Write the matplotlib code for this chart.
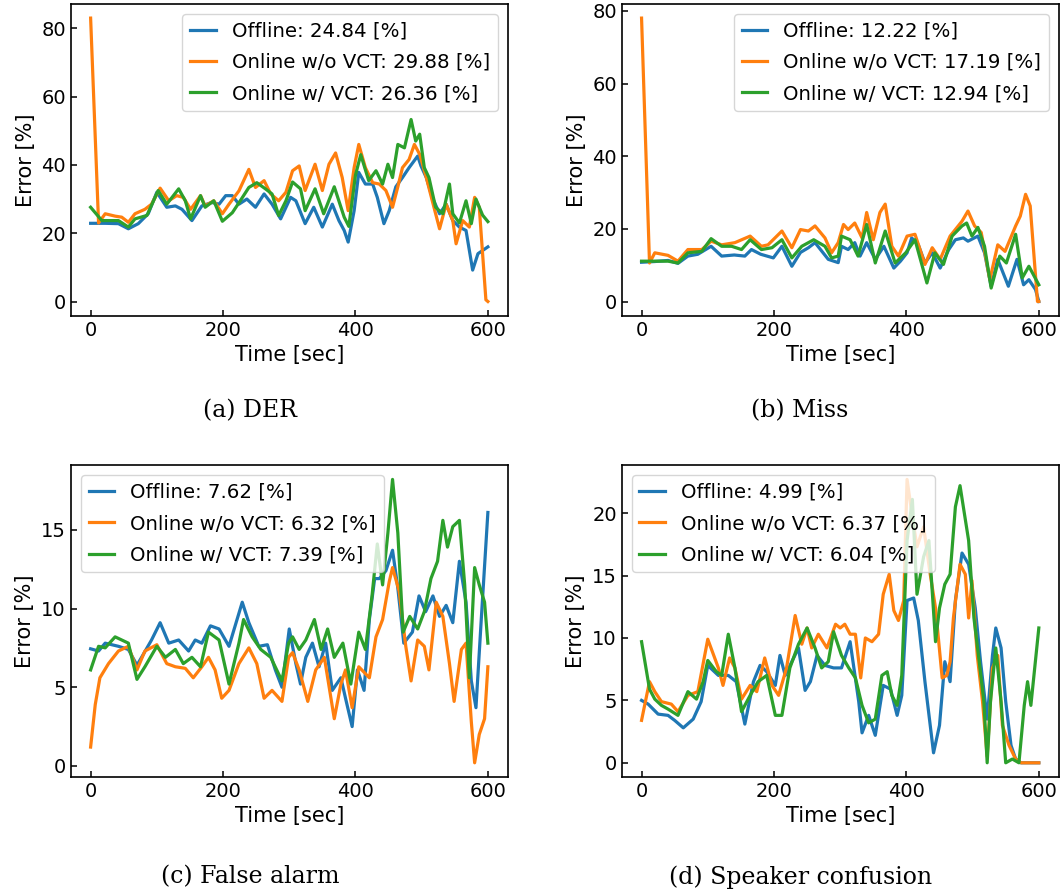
import matplotlib
matplotlib.use("Agg")
import matplotlib.pyplot as plt

labels = ["Offline", "Online w/o VCT", "Online w/ VCT"]
colors = ["tab:blue", "tab:orange", "tab:green"]

# (a) DER
der_means = [24.84, 29.88, 26.36]
der_t_off = [0, 22, 42, 57, 72, 87, 100, 115, 128, 138, 153, 168, 183, 194, 204, 214, 224, 236, 249, 262,
             274, 287, 302, 310, 324, 337, 350, 365, 375, 383, 389, 398, 405, 415, 426, 433, 443, 451, 461, 471,
             481, 494, 499, 507, 516, 527, 537, 547, 557, 567, 577, 585, 600]
der_off = [22.9, 22.9, 22.8, 21.3, 22.8, 25.7, 32, 27.6, 28, 27, 23.7, 28, 29, 28.5, 31, 31, 28.5, 30, 27.6, 31.5,
           28.5, 24.2, 30.5, 29.5, 22.8, 27.6, 21.8, 28.5, 23.7, 20.8, 17.4, 26.6, 37.8, 34.4, 34.4, 30.5, 22.8, 26.6, 33.6, 36.3,
           39.2, 42.6, 39.7, 36.3, 30.5, 25.7, 28.5, 23.7, 21.8, 20.8, 9.2, 14, 16]
der_t_wo = [0, 12, 22, 37, 47, 57, 67, 82, 92, 105, 118, 130, 140, 151, 166, 173, 186, 199, 209, 224,
            239, 249, 262, 272, 284, 295, 305, 315, 324, 339, 350, 360, 370, 380, 389, 398, 405, 415, 426, 436,
            446, 456, 464, 471, 481, 489, 497, 507, 516, 527, 537, 547, 552, 562, 572, 580, 587, 597, 600]
der_wo = [83, 23, 25.7, 25, 24.7, 23.2, 25.7, 27, 28.5, 33.2, 29.5, 31, 30.5, 27, 31, 28, 29.5, 25.7, 28.5, 32.4,
          38.7, 33.4, 35.4, 31.5, 29.5, 32, 38.3, 39.7, 32.5, 40.2, 32.5, 40.2, 43.5, 36.3, 26.6, 39.2, 46, 39.2, 34.8, 34.4,
          32.5, 27.6, 33.6, 39.2, 41.6, 46, 43.1, 36.3, 29.5, 21.3, 28.5, 23.7, 16.9, 23.7, 21.8, 30.5, 27.6, 0.5, 0]
der_t_w = [0, 17, 42, 57, 67, 85, 102, 115, 123, 133, 143, 151, 166, 173, 186, 199, 214, 226, 239, 251,
           264, 274, 284, 295, 305, 317, 324, 339, 352, 368, 383, 390, 400, 408, 420, 431, 441, 449, 456, 464,
           474, 484, 491, 497, 504, 511, 521, 532, 542, 547, 557, 567, 575, 582, 592, 600]
der_w = [27.6, 23.7, 23.7, 21.8, 24.2, 25.2, 32.5, 28.5, 30.5, 33, 29.5, 24.2, 31, 27.6, 29.5, 23.5, 26, 29.5, 33.4, 34.8,
         33, 31.5, 25.2, 29.5, 35, 33, 26.6, 33, 25.7, 33.6, 24.7, 22, 37, 43, 35.4, 38.3, 34.4, 40.2, 36.3, 46,
         45, 53.3, 47, 49, 39.2, 36.3, 27.6, 25.7, 34.4, 25.7, 23, 29.5, 22.8, 30, 25.3, 23.4]

# (b) Miss
miss_means = [12.22, 17.19, 12.94]
miss_t_off = [0, 20, 40, 55, 70, 85, 105, 121, 140, 156, 166, 180, 199, 212, 227, 240, 252, 262, 282, 297,
              302, 312, 322, 330, 340, 353, 366, 381, 391, 401, 408, 418, 428, 439, 451, 464, 474, 486, 493, 508,
              518, 528, 538, 554, 567, 577, 585, 595, 600]
miss_off = [10.8, 11, 11.3, 10.5, 12.5, 13, 15.2, 12.5, 12.8, 12.5, 14.3, 13, 12, 15.2, 9.7, 13.5, 14.8, 16.2, 11.6, 10.7,
            15.2, 14.3, 16.2, 12.5, 16.2, 11.6, 15.2, 9.2, 11.1, 13.4, 17.5, 15.6, 10.6, 13.4, 9.2, 14.3, 17, 17.5, 16.6, 18,
            13.4, 4.2, 11.6, 4.2, 11.6, 4.6, 6, 3.3, 0]
miss_t_wo = [0, 12, 20, 40, 55, 70, 91, 105, 121, 141, 164, 181, 191, 212, 227, 240, 252, 262, 277, 287,
             297, 305, 312, 322, 333, 340, 350, 360, 368, 378, 388, 401, 413, 428, 439, 451, 466, 484, 493, 503,
             513, 526, 538, 549, 565, 572, 580, 587, 592, 598, 600]
miss_wo = [78, 10.6, 13.4, 12.7, 11.1, 14.3, 14.3, 16.6, 15.6, 16.2, 18, 15.2, 15.6, 19.4, 14.8, 19.8, 19.4, 20.8, 17.5, 13.4,
           16.2, 21.2, 19.8, 21.6, 17.5, 24.5, 17, 24.5, 26.8, 15.2, 12.5, 18, 18.5, 10.2, 14.8, 11.6, 18, 22.1, 24.9, 20.8,
           19, 6, 15.6, 13.8, 20.8, 23.5, 29.5, 26.3, 14.3, 0, 0]
miss_t_w = [0, 20, 40, 55, 70, 91, 105, 121, 136, 151, 164, 181, 197, 212, 227, 242, 260, 277, 287, 297,
            302, 315, 327, 340, 353, 368, 383, 399, 413, 431, 443, 456, 469, 484, 491, 499, 508, 518, 528, 541,
            551, 565, 575, 585, 600]
miss_w = [11.1, 11.1, 11.1, 10.6, 13.4, 13.8, 17.3, 15.2, 15.2, 14.3, 17, 14.3, 14.8, 17, 12, 15.2, 17, 15.2, 12, 12.5,
          18, 17, 12.5, 21.2, 10.6, 19.4, 10.6, 13.4, 17, 5.1, 13.4, 10.2, 18, 20.8, 21.6, 18, 20.4, 15.2, 3.7, 12.5,
          10.6, 18.5, 6.5, 9.7, 4.6]

# (c) False alarm
fa_means = [7.62, 6.32, 7.39]
fa_t_off = [0, 12, 22, 42, 57, 70, 77, 92, 105, 118, 133, 148, 158, 168, 181, 194, 209, 229, 239, 254,
            267, 279, 289, 300, 310, 317, 325, 335, 345, 355, 365, 378, 385, 395, 403, 413, 421, 429, 436, 446,
            456, 464, 473, 486, 496, 506, 517, 527, 537, 547, 557, 567, 575, 582, 590, 600]
fa_off = [7.44, 7.3, 7.8, 7.6, 7.4, 6.4, 6.9, 8.0, 9.1, 7.8, 8.0, 7.3, 8.0, 7.8, 8.9, 8.7, 7.6, 10.4, 9.1, 7.6,
          7.7, 6.1, 5.0, 8.7, 6.5, 5.2, 6.9, 7.8, 6.3, 7.8, 4.8, 5.6, 4.3, 2.5, 6.1, 4.8, 9.3, 11.9, 11.9, 12.4,
          13.7, 11.3, 7.8, 8.5, 10.8, 9.8, 10.8, 9.5, 10.2, 9.1, 13.0, 10.4, 5.4, 3.7, 9.3, 16.1]
fa_t_wo = [0, 7, 14, 27, 42, 57, 70, 82, 100, 115, 128, 143, 155, 168, 178, 188, 198, 209, 224, 239,
           251, 262, 274, 289, 299, 305, 315, 328, 340, 353, 368, 378, 385, 395, 405, 421, 431, 441, 451, 456,
           466, 476, 484, 494, 504, 511, 522, 532, 542, 549, 560, 567, 575, 580, 587, 595, 600]
fa_wo = [1.2, 3.9, 5.6, 6.5, 7.3, 7.6, 6.1, 7.3, 7.7, 6.5, 6.3, 6.2, 5.6, 6.3, 6.9, 6.1, 4.3, 4.8, 6.5, 7.5,
         6.5, 4.3, 4.8, 4.1, 6.9, 7.2, 6.1, 4.1, 6.1, 6.9, 3.0, 5.2, 6.1, 3.7, 6.3, 5.6, 8.2, 9.3, 11.7, 12.6,
         11.1, 7.6, 5.4, 8.0, 7.6, 6.1, 10.4, 9.5, 6.5, 4.1, 7.4, 7.8, 2.8, 0.2, 2.0, 3.0, 6.3]
fa_t_w = [0, 12, 22, 37, 57, 70, 82, 100, 113, 128, 140, 153, 166, 178, 194, 209, 224, 231, 244, 257,
          272, 289, 299, 305, 315, 325, 338, 348, 358, 368, 381, 393, 405, 415, 425, 433, 441, 449, 456, 464,
          472, 482, 494, 504, 514, 524, 532, 539, 547, 557, 565, 572, 580, 587, 595, 600]
fa_w = [6.1, 7.6, 7.5, 8.2, 7.8, 5.5, 6.3, 7.6, 6.9, 7.4, 6.5, 6.9, 6.3, 8.5, 8.0, 5.2, 7.8, 9.3, 8.2, 7.4,
        6.9, 5.4, 7.8, 8.2, 7.4, 8.0, 9.3, 7.4, 8.7, 6.9, 7.8, 5.2, 8.5, 7.4, 10.8, 14.1, 11.5, 14.8, 18.2, 14.8,
        8.5, 9.5, 8.7, 9.8, 11.9, 13.0, 15.6, 13.9, 15.2, 15.6, 11.5, 5.6, 12.6, 11.5, 10.4, 7.8]

# (d) Speaker confusion
sc_means = [4.99, 6.37, 6.04]
sc_t_off = [0, 10, 25, 40, 50, 63, 78, 90, 100, 116, 131, 143, 156, 169, 179, 189, 202, 209, 217, 227,
            237, 247, 255, 265, 277, 290, 302, 315, 328, 333, 343, 353, 365, 376, 386, 393, 401, 411, 418, 428,
            441, 450, 458, 466, 474, 484, 494, 504, 512, 522, 530, 535, 543, 550, 558, 565, 573, 600]
sc_off = [5.0, 4.7, 3.9, 3.8, 3.4, 2.8, 3.5, 4.9, 7.8, 7.0, 7.0, 6.5, 3.1, 6.5, 7.8, 7.3, 6.2, 8.6, 7.0, 8.1,
          9.2, 5.8, 6.5, 8.6, 7.8, 7.6, 7.6, 9.7, 4.9, 2.4, 3.8, 2.2, 6.2, 5.9, 3.8, 5.4, 13.0, 13.2, 11.4, 6.5,
          0.8, 3.0, 8.1, 6.5, 13.0, 16.8, 15.9, 12.4, 8.1, 3.5, 8.6, 10.8, 9.2, 4.9, 1.4, 0.3, 0, 0]
sc_t_wo = [0, 12, 20, 30, 45, 55, 70, 85, 100, 116, 123, 133, 141, 151, 164, 174, 186, 197, 207, 219,
           232, 242, 250, 257, 267, 280, 293, 300, 307, 315, 323, 331, 338, 348, 358, 365, 374, 381, 388, 396,
           401, 409, 416, 426, 436, 444, 454, 461, 466, 471, 481, 489, 494, 499, 507, 515, 522, 530, 538, 545,
           555, 565, 573, 600]
sc_wo = [3.4, 6.5, 5.7, 4.9, 4.7, 4.1, 5.4, 5.7, 9.9, 7.6, 6.2, 8.4, 7.6, 5.1, 6.2, 5.7, 8.4, 6.2, 5.4, 7.6,
         11.8, 9.5, 10.8, 9.2, 10.3, 9.2, 11.1, 10.8, 11.1, 10.3, 10.3, 6.8, 10.0, 9.7, 10.3, 13.5, 15.1, 12.2, 11.4, 13.0,
         22.7, 19.7, 17.3, 18.9, 15.1, 12.4, 6.8, 7.0, 8.1, 11.6, 15.9, 15.1, 11.6, 14.6, 8.6, 4.9, 0.5, 7.6, 8.6, 3.0,
         1.4, 0.3, 0, 0]
sc_t_w = [0, 12, 20, 30, 40, 55, 70, 83, 93, 100, 113, 121, 131, 141, 151, 164, 176, 189, 202, 212,
          224, 237, 250, 262, 272, 282, 290, 302, 313, 323, 333, 343, 353, 363, 371, 378, 386, 393, 401, 409,
          416, 426, 434, 444, 450, 458, 466, 474, 481, 486, 494, 502, 510, 517, 522, 527, 535, 543, 550, 560,
          570, 578, 583, 588, 600]
sc_w = [9.7, 5.9, 5.1, 4.6, 4.3, 3.8, 5.7, 5.1, 6.5, 8.2, 7.3, 7.0, 10.3, 7.6, 4.1, 5.4, 6.5, 7.0, 3.8, 3.8,
        7.6, 9.5, 10.8, 9.2, 7.6, 8.1, 10.5, 8.6, 7.6, 6.8, 4.6, 3.2, 3.5, 7.0, 7.3, 5.4, 4.6, 7.0, 17.8, 21.1,
        13.5, 16.5, 17.8, 9.7, 12.4, 14.3, 15.1, 20.5, 22.2, 20.5, 17.8, 11.6, 8.1, 4.9, 0, 4.9, 9.2, 4.9, 0, 0.3,
        0, 4.6, 6.5, 4.6, 10.8]

panels = [
    ("(a) DER", der_means, [(der_t_off, der_off), (der_t_wo, der_wo), (der_t_w, der_w)], "upper right", [0, 20, 40, 60, 80]),
    ("(b) Miss", miss_means, [(miss_t_off, miss_off), (miss_t_wo, miss_wo), (miss_t_w, miss_w)], "upper right", [0, 20, 40, 60, 80]),
    ("(c) False alarm", fa_means, [(fa_t_off, fa_off), (fa_t_wo, fa_wo), (fa_t_w, fa_w)], "upper left", [0, 5, 10, 15]),
    ("(d) Speaker confusion", sc_means, [(sc_t_off, sc_off), (sc_t_wo, sc_wo), (sc_t_w, sc_w)], "upper left", [0, 5, 10, 15, 20]),
]

fig = plt.figure(figsize=(10.64, 8.94), dpi=100)
boxes = [[0.0665, 0.6469, 0.4107, 0.3487], [0.5843, 0.6469, 0.4107, 0.3487],
         [0.0665, 0.1309, 0.4107, 0.3487], [0.5843, 0.1309, 0.4107, 0.3487]]
cap_pos = [(0.235, 0.541), (0.752, 0.541), (0.235, 0.019), (0.752, 0.019)]

for i, (caption, means, series, loc, yt) in enumerate(panels):
    ax = fig.add_axes(boxes[i])
    for (t, v), lab, c, m in zip(series, labels, colors, means):
        ax.plot(t, v, color=c, lw=2.3, label=f"{lab}: {m:.2f} [%]")
    ax.set_xticks([0, 200, 400, 600])
    ax.set_yticks(yt)
    ax.tick_params(direction="in", labelsize=14, length=4, width=1.1)
    for s in ax.spines.values():
        s.set_linewidth(1.2)
    ax.set_xlabel("Time [sec]", fontsize=15)
    ax.set_ylabel("Error [%]", fontsize=15)
    ax.legend(loc=loc, fontsize=14.2, handlelength=1.3, labelspacing=0.62)
    fig.text(cap_pos[i][0], cap_pos[i][1], caption, ha="center", va="center",
             family="DejaVu Serif", fontsize=17)

fig.savefig("out.png", dpi=100)
